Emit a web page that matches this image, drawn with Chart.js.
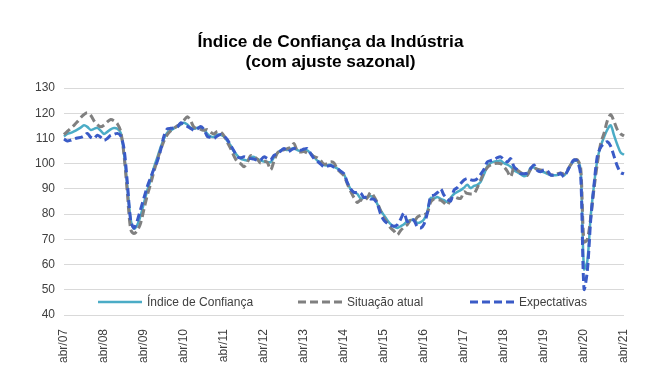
<!DOCTYPE html>
<html lang="pt-BR">
<head>
<meta charset="utf-8">
<title>Índice de Confiança da Indústria</title>
<script src="https://cdn.jsdelivr.net/npm/chart.js@4.4.1/dist/chart.umd.min.js"></script>
<style>
  html, body { margin: 0; padding: 0; background: #fff; }
  #wrap { width: 661px; height: 377px; }
</style>
</head>
<body>
<div id="wrap"><canvas id="chart" width="661" height="377"></canvas></div>
<script>
const meses = ["jan","fev","mar","abr","mai","jun","jul","ago","set","out","nov","dez"];

// Índice de Confiança (abr/07 .. abr/21), uma linha por ano
const indice = [
  110.8, 111.8, 112.2, 112.8, 113.5, 114.3, 115.2, 114.6, 113.4,
  113.8, 114.2, 113.1, 111.8, 112.6, 113.6, 114.1, 113.8, 112.2, 104.0, 91.0, 78.0,
  74.2, 75.8, 79.5, 84.5, 89.5, 93.5, 98.5, 102.5, 106.5, 110.0, 112.3, 113.2,
  114.0, 114.7, 115.5, 116.2, 115.5, 114.2, 113.8, 114.2, 114.0, 113.5, 111.8, 110.8,
  110.6, 111.5, 111.4, 110.7, 109.0, 107.2, 104.8, 103.2, 102.0, 101.5, 101.3, 102.5,
  102.7, 101.8, 101.3, 100.8, 100.7, 100.6, 102.5, 104.2, 105.3, 105.6, 105.4, 105.8,
  106.2, 105.4, 105.1, 105.4, 105.3, 104.1, 102.7, 101.2, 100.6, 99.4, 99.3, 99.6,
  98.7, 98.1, 97.0, 95.8, 92.5, 89.8, 88.6, 88.0, 86.2, 86.5, 86.8, 87.2,
  86.3, 84.0, 81.5, 79.5, 77.6, 76.0, 75.0, 74.5, 75.2, 76.0, 77.2, 77.6,
  77.8, 76.5, 76.8, 77.9, 81.0, 86.4, 86.2, 86.8, 86.0, 85.5, 84.8, 86.5,
  88.0, 88.8, 89.5, 90.5, 91.6, 90.3, 91.2, 91.6, 92.8, 95.8, 99.0, 100.3,
  100.8, 101.0, 101.2, 100.2, 99.6, 98.8, 97.4, 96.6, 95.8, 95.0, 95.7, 98.4,
  98.5, 97.6, 97.0, 96.6, 96.0, 95.5, 95.4, 95.5, 95.8, 95.3, 97.0, 99.6,
  101.0, 101.2, 97.5, 58.2, 61.4, 79.0, 91.5, 101.5, 107.0, 110.5, 113.5, 115.2,
  111.3, 107.5, 104.4, 103.5
];

const situacao = [
  111.5, 112.8, 114.0, 115.2, 116.6, 118.2, 119.5, 120.2, 119.2,
  117.0, 115.5, 114.6, 115.3, 116.6, 117.5, 117.0, 115.8, 112.8, 103.5, 88.5, 74.0,
  72.3, 73.5, 76.5, 82.0, 87.5, 92.0, 97.0, 101.5, 105.5, 109.0, 111.5, 113.0,
  114.0, 115.0, 115.8, 117.2, 118.6, 117.0, 114.4, 114.0, 113.6, 113.2, 113.5, 112.4,
  111.8, 112.8, 112.5, 111.0, 108.5, 106.0, 103.0, 100.8, 100.0, 98.8, 100.5, 103.2,
  102.8, 101.8, 100.2, 101.0, 100.5, 97.6, 101.0, 104.2, 105.3, 105.5, 106.0, 106.5,
  108.0, 105.0, 104.6, 104.8, 104.2, 103.8, 102.8, 102.3, 101.2, 99.8, 100.0, 100.7,
  100.3, 97.8, 96.5, 95.2, 92.0, 89.0, 86.5, 84.6, 85.6, 85.2, 86.5, 88.6,
  87.0, 84.5, 81.2, 78.5, 76.5, 74.5, 73.3, 71.8, 73.5, 74.8, 75.8, 77.5,
  77.0, 78.8, 79.5, 79.8, 80.5, 84.8, 86.0, 85.8, 85.5, 84.5, 83.5, 86.0,
  86.8, 86.4, 86.2, 88.8, 88.2, 88.0, 88.2, 90.5, 93.5, 96.5, 98.5, 99.5,
  100.0, 100.2, 100.0, 98.7, 97.0, 94.8, 98.5, 97.4, 96.5, 95.6, 95.4, 97.8,
  98.3, 97.8, 97.5, 97.2, 96.5, 95.6, 95.5, 96.0, 96.3, 96.0, 97.5, 99.5,
  101.3, 101.5, 98.5, 69.0, 70.0, 78.5, 90.0, 100.0, 108.0, 112.0, 117.0, 119.5,
  116.8, 113.5, 111.8, 111.0
];

const expectativas = [
  109.8, 109.0, 109.3, 109.8, 110.2, 110.4, 111.0, 112.0, 110.5,
  110.0, 111.3, 110.5, 109.3, 110.0, 111.3, 111.6, 112.0, 111.0, 106.0, 92.5, 77.5,
  74.5, 77.5, 82.0, 86.5, 91.0, 94.5, 98.0, 101.0, 105.5, 111.0, 113.8, 114.0,
  114.2, 114.5, 116.2, 115.5, 114.8, 114.0, 113.2, 113.8, 114.7, 113.5, 110.8, 110.4,
  110.0, 111.0, 111.6, 111.0, 109.5, 107.3, 105.0, 102.7, 102.3, 102.7, 102.3, 102.0,
  101.8, 101.3, 101.5, 102.7, 102.0, 101.5, 103.3, 104.0, 105.0, 106.0, 104.7, 105.3,
  106.0, 105.6, 105.3, 105.8, 106.0, 104.0, 102.0, 101.0, 99.8, 98.7, 99.0, 99.3,
  98.6, 98.0, 97.0, 96.0, 92.5, 90.0, 88.6, 88.6, 88.4, 86.6, 86.8, 86.0,
  85.9, 84.0, 80.0, 77.5, 76.3, 75.6, 75.2, 75.8, 78.0, 80.5, 77.0, 77.9,
  77.5, 75.0, 74.5, 76.0, 80.5, 87.0, 87.5, 88.5, 90.0, 87.5, 86.0, 85.2,
  89.5, 90.5, 92.1, 93.5, 94.1, 93.6, 93.4, 94.1, 95.8, 97.8, 100.7, 101.2,
  101.6, 102.4, 102.7, 101.5, 100.7, 102.0, 98.8, 97.5, 96.1, 96.0, 96.3, 98.0,
  99.5, 97.3, 96.8, 97.5, 97.2, 95.5, 95.4, 95.5, 96.2, 94.8, 97.0, 99.6,
  101.5, 101.0, 95.5, 50.3, 57.5, 77.5, 91.5, 103.0, 106.5, 108.0, 108.7, 107.0,
  103.0, 99.0, 96.5, 96.0
];

// rótulos mensais abr/07 .. abr/21
const labels = [];
for (let y = 2007; y <= 2021; y++) {
  for (let m = 0; m < 12; m++) {
    if ((y === 2007 && m < 3) || (y === 2021 && m > 3)) continue;
    labels.push(meses[m] + "/" + String(y).slice(2));
  }
}

const FONT = "Arial, 'Liberation Sans', Helvetica, sans-serif";
const TXT = "#404040";

// legenda desenhada dentro da área do gráfico, como no original
const insideLegend = {
  id: "insideLegend",
  afterDraw(chart) {
    const { ctx, chartArea } = chart;
    const y = chartArea.bottom - 13;
    const offs = [34, 234, 406];
    ctx.save();
    ctx.font = "12px " + FONT;
    ctx.textBaseline = "middle";
    chart.data.datasets.forEach((ds, i) => {
      const x = chartArea.left + offs[i];
      ctx.strokeStyle = ds.borderColor;
      ctx.lineWidth = ds.borderWidth;
      ctx.setLineDash(ds.borderDash || []);
      ctx.beginPath();
      ctx.moveTo(x, y);
      ctx.lineTo(x + 44, y);
      ctx.stroke();
      ctx.setLineDash([]);
      ctx.fillStyle = TXT;
      ctx.fillText(ds.label, x + 49, y + 1);
    });
    ctx.restore();
  }
};

new Chart(document.getElementById("chart"), {
  type: "line",
  data: {
    labels,
    datasets: [
      { label: "Índice de Confiança", data: indice, borderColor: "#4bacc6", borderWidth: 2.5, order: 3 },
      { label: "Situação atual", data: situacao, borderColor: "#808080", borderWidth: 3, borderDash: [8, 4], order: 2 },
      { label: "Expectativas", data: expectativas, borderColor: "#3a5bc7", borderWidth: 3, borderDash: [8, 4], order: 1 }
    ]
  },
  options: {
    responsive: false,
    animation: false,
    elements: { point: { radius: 0 }, line: { tension: 0.3 } },
    layout: { padding: { top: 32, right: 0, bottom: 0, left: 0 } },
    plugins: {
      legend: { display: false },
      tooltip: { enabled: false },
      title: {
        display: true,
        text: ["Índice de Confiança da Indústria", "(com ajuste sazonal)"],
        color: "#000",
        font: { family: FONT, size: 17.3, weight: "bold", lineHeight: "20px" },
        padding: { top: 0, bottom: 16 }
      }
    },
    scales: {
      x: {
        grid: { display: false },
        border: { display: false },
        ticks: {
          autoSkip: false,
          maxRotation: 90,
          minRotation: 90,
          padding: 6,
          color: TXT,
          font: { family: FONT, size: 12 },
          callback: (v, i) => labels[i].startsWith("abr") ? labels[i] : null
        },
        afterFit: (s) => { s.height = 62; }
      },
      y: {
        min: 40,
        max: 130,
        grid: { color: "#d9d9d9", drawTicks: false },
        border: { display: false },
        ticks: { stepSize: 10, padding: 9, color: TXT, font: { family: FONT, size: 12 } },
        afterFit: (s) => { s.width = 64; }
      },
      // margem direita vazia (mantém o título centrado na largura toda)
      yRight: {
        position: "right",
        grid: { display: false },
        border: { display: false },
        ticks: { display: false },
        afterFit: (s) => { s.width = 37; }
      }
    }
  },
  plugins: [insideLegend]
});
</script>
</body>
</html>
